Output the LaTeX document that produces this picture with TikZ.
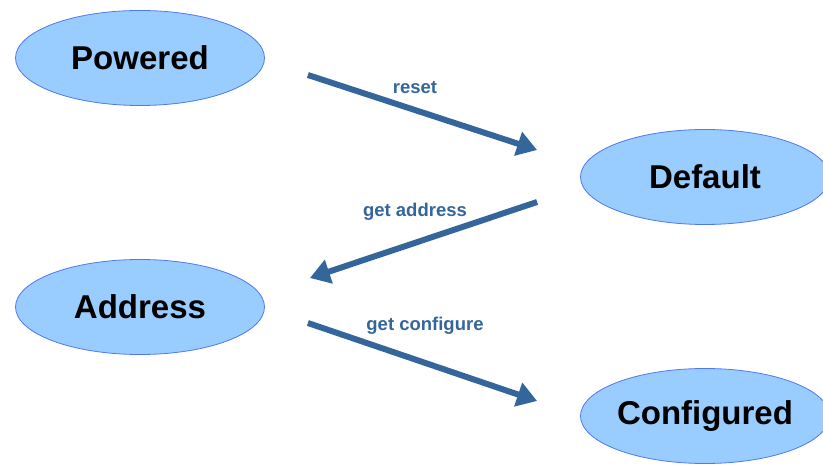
\documentclass[tikz,border=0pt]{standalone}
\usepackage{fontspec}
\setmainfont{Liberation Sans}
\usetikzlibrary{shapes.geometric,arrows.meta}
\definecolor{statefill}{RGB}{153,204,255}
\definecolor{stateline}{RGB}{80,120,240}
\definecolor{flowblue}{RGB}{52,102,156}
\begin{document}
\begin{tikzpicture}[x=1pt,y=-1pt,
  state/.style={ellipse, fill=statefill, draw=stateline, line width=0.8pt,
    minimum width=249pt, minimum height=95pt, inner sep=0pt,
    font=\fontsize{33}{33}\selectfont\bfseries},
  flow/.style={line width=6pt, draw=flowblue,
    -{Triangle[length=20pt,width=24pt]}},
  flowlabel/.style={text=flowblue, font=\fontsize{18.5}{18.5}\selectfont\bfseries}]
  \useasboundingbox (0,0) rectangle (823,465);

  % States
  \node[state] (Powered) at (140,58) {Powered};
  \node[state] (Default) at (705,177) {Default};
  \node[state] (Address) at (140,307) {Address};
  \node[state] (Configured) at (705,416) {Configured};

  % Free ends of the transitions
  \coordinate (resetA) at ([xshift=43pt,yshift=-17pt]Powered.east);
  \coordinate (resetB) at ([xshift=-43pt,yshift=27pt]Default.west);
  \coordinate (addrA) at ([xshift=-43pt,yshift=-25pt]Default.west);
  \coordinate (addrB) at ([xshift=45pt,yshift=29pt]Address.east);
  \coordinate (confA) at ([xshift=43pt,yshift=-16pt]Address.east);
  \coordinate (confB) at ([xshift=-43pt,yshift=15pt]Configured.west);

  % Transitions
  \draw[flow] (resetA) -- (resetB);
  \draw[flow] (addrA) -- (addrB);
  \draw[flow] (confA) -- (confB);

  % Labels
  \node[flowlabel] (resetLbl) at (415,88) {reset};
  \node[flowlabel] (addrLbl) at (415,212) {get address};
  \node[flowlabel] (confLbl) at (425,326) {get configure};
\end{tikzpicture}
\end{document}
